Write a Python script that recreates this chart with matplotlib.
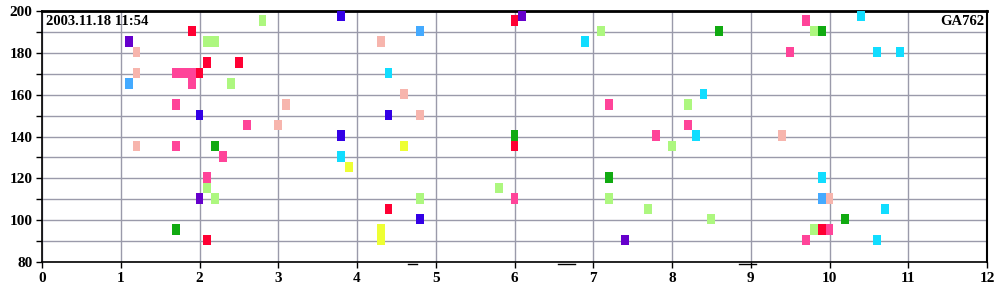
import matplotlib.pyplot as plt

# points per colour group (x, y)
red_x = [1.9, 2.1, 2.5, 2.0, 6.0, 6.0, 4.4, 2.1, 9.9]
red_y = [190, 175, 175, 170, 195, 135, 105, 90, 95]

pink_x = [1.7, 1.8, 1.9, 1.9, 1.7, 2.6, 1.7, 2.3, 2.1, 7.2, 7.8, 6.0, 9.7, 9.5, 8.2, 10.0, 9.7]
pink_y = [170, 170, 170, 165, 155, 145, 135, 130, 120, 155, 140, 110, 195, 180, 145, 95, 90]

ltpink_x = [1.2, 1.2, 3.1, 3.0, 1.2, 4.3, 4.6, 4.8, 9.4, 10.0]
ltpink_y = [180, 170, 155, 145, 135, 185, 160, 150, 140, 110]

ltgreen_x = [2.1, 2.2, 2.4, 2.8, 2.1, 2.2, 7.1, 8.0, 5.8, 4.8, 7.2, 7.7, 9.8, 8.2, 8.5, 9.8]
ltgreen_y = [185, 185, 165, 195, 115, 110, 190, 135, 115, 110, 110, 105, 190, 155, 100, 95]

green_x = [2.2, 1.7, 6.0, 7.2, 8.6, 9.9, 10.2]
green_y = [135, 95, 140, 120, 190, 190, 100]

blue_x = [2.0, 3.8, 3.8, 4.4, 3.8, 4.8]
blue_y = [150, 197.5, 140, 150, 140, 100]

purple_x = [1.1, 2.0, 6.1, 7.4]
purple_y = [185, 110, 197.5, 90]

ltblue_x = [1.1, 4.8, 9.9]
ltblue_y = [165, 190, 110]

cyan_x = [3.8, 6.9, 4.4, 10.4, 10.6, 10.9, 8.4, 8.3, 9.9, 10.7, 10.6]
cyan_y = [130, 185, 170, 197.5, 180, 180, 160, 140, 120, 105, 90]

yellow_x = [4.6, 3.9, 4.3, 4.3]
yellow_y = [135, 125, 95, 90]

groups = [
    (ltpink_x, ltpink_y, '#f7b5ad'),
    (ltgreen_x, ltgreen_y, '#adf77f'),
    (ltblue_x, ltblue_y, '#44aaff'),
    (cyan_x, cyan_y, '#11ddff'),
    (yellow_x, yellow_y, '#eeff33'),
    (green_x, green_y, '#11aa11'),
    (pink_x, pink_y, '#ff4499'),
    (red_x, red_y, '#ff0033'),
    (blue_x, blue_y, '#3300e6'),
    (purple_x, purple_y, '#6600cc'),
]

# little dashes under the axis
dash_x = [(4.65, 4.76), (6.55, 6.77), (8.85, 9.07)]

plt.rcParams['font.family'] = ['Liberation Serif', 'DejaVu Serif']
plt.rcParams['font.weight'] = 'bold'

fig = plt.figure(figsize=(10, 3), dpi=100)
ax = fig.add_axes([0.042, 0.127, 0.945, 0.836])

w = 0.1
h = 5
for xs, ys, c in groups:
    ax.bar(xs, h, width=w, bottom=[v - h / 2 + 0.4 for v in ys], color=c, zorder=3)

for a, b in dash_x:
    ax.plot([a, b], [79.0, 79.0], color='black', lw=1, clip_on=False)

ax.set_xlim(0, 12)
ax.set_ylim(80, 200)
ax.set_xticks(range(0, 13))
ax.set_yticks(range(80, 201, 10))
ax.set_yticklabels([str(v) if v % 20 == 0 else '' for v in range(80, 201, 10)])
ax.grid(True, color='#9a9aaa', lw=1, zorder=0)
ax.set_axisbelow(True)
ax.tick_params(axis='both', length=4, width=1, color='black', labelsize=11, pad=3)
for lbl in ax.get_xticklabels() + ax.get_yticklabels():
    lbl.set_fontweight('bold')

for s in ['left', 'bottom']:
    ax.spines[s].set_linewidth(1.2)
ax.spines['top'].set_linewidth(2)
ax.spines['right'].set_linewidth(1.5)

ax.text(0.004, 0.985, '2003.11.18 11:54', transform=ax.transAxes, ha='left', va='top',
        fontsize=10.5, fontweight='bold', zorder=5)
ax.text(0.997, 0.985, 'GA762', transform=ax.transAxes, ha='right', va='top',
        fontsize=10.5, fontweight='bold', zorder=5)

fig.savefig('out.png', dpi=100)
